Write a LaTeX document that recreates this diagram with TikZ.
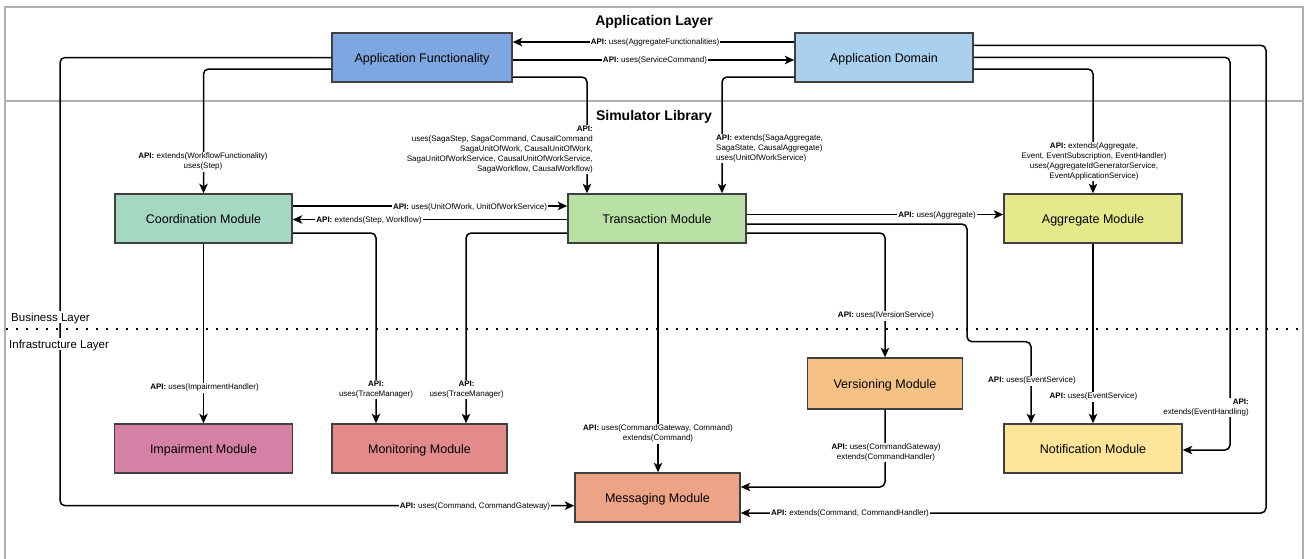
\documentclass[tikz,border=0pt]{standalone}
\usepackage{fontspec}
\setmainfont{Liberation Sans}
\usetikzlibrary{arrows.meta}
\definecolor{afc}{HTML}{7EA6E0}
\definecolor{adc}{HTML}{A9D0EE}
\definecolor{cmc}{HTML}{A6D7C2}
\definecolor{tmc}{HTML}{B9E0A5}
\definecolor{amc}{HTML}{E5E98B}
\definecolor{vmc}{HTML}{F5C184}
\definecolor{imc}{HTML}{D580A5}
\definecolor{monc}{HTML}{E38A8A}
\definecolor{msgc}{HTML}{EDA385}
\definecolor{nmc}{HTML}{FFE599}
\definecolor{framec}{HTML}{B0B0B0}
\definecolor{edgec}{HTML}{404040}
\newcommand{\apiB}{\textbf{API:}}
\tikzset{
  box/.style={draw=edgec, line width=1.5pt, minimum height=49pt, inner sep=0pt,
    text height=10pt, text depth=1pt,
    font=\fontsize{12.5}{15}\selectfont},
  arr/.style={line width=1.5pt, rounded corners=5pt,
    -{Stealth[length=9.5pt,width=8.5pt,inset=2.5pt]}},
  lbl/.style={fill=white, inner sep=1pt, yshift=-0.8pt, font=\fontsize{8}{10}\selectfont},
  layertxt/.style={fill=white, inner sep=1pt, anchor=west, text height=9.5pt, text depth=1.2pt,
    font=\fontsize{11.5}{13}\selectfont},
  titletxt/.style={font=\fontsize{14}{16}\bfseries\selectfont, inner sep=1pt,
    text height=11pt, text depth=1pt},
}
\begin{document}
\begin{tikzpicture}[x=1pt,y=-1pt]
\useasboundingbox (0,0) rectangle (1307,558);
\clip (0,0) rectangle (1307,558);
% frames
\draw[framec, line width=2.5pt] (5,7) rectangle (1303,101);
\draw[framec, line width=2.5pt] (5,101) rectangle (1303,600);
\node[titletxt] (t1) at (654,20.5) {Application Layer};
\node[titletxt] (t2) at (654,115.5) {Simulator Library};
% layer separator
\draw[line width=2pt, dash pattern=on 2pt off 8pt] (6,329) -- (1303,329);

% boxes
\node[box, fill=afc, minimum width=180pt] (AF) at (422,57.5) {Application Functionality};
\node[box, fill=adc, minimum width=178pt] (AD) at (884,57.5) {Application Domain};
\node[box, fill=cmc, minimum width=177pt] (CM) at (203.5,218.5) {Coordination Module};
\node[box, fill=tmc, minimum width=178pt] (TM) at (657,218.5) {Transaction Module};
\node[box, fill=amc, minimum width=178pt] (AM) at (1093,218.5) {Aggregate Module};
\node[box, fill=vmc, minimum width=155pt, minimum height=51pt] (VM) at (885,383.5) {Versioning Module};
\node[box, fill=imc, minimum width=178pt] (IM) at (203.5,448.5) {Impairment Module};
\node[box, fill=monc, minimum width=175pt] (MonM) at (419.5,448.5) {Monitoring Module};
\node[box, fill=msgc, minimum width=165pt] (MsgM) at (657.5,497.5) {Messaging Module};
\node[box, fill=nmc, minimum width=178pt] (NM) at (1093,448.5) {Notification Module};

% connectors
\draw[arr] (AD.west |- 0,42) -- (AF.east |- 0,42);
\draw[arr] (AF.east |- 0,60) -- (AD.west |- 0,60);
\draw[arr] (AF.west |- 0,57.5) -| (60,505.7) -- (MsgM.west |- 0,505.7);
\draw[arr] (AF.west |- 0,69) -| (CM.north);
\draw[arr] (AF.east |- 0,77) -| (TM.north -| 587,0);
\draw[arr] (AD.west |- 0,77) -| (TM.north -| 722,0);
\draw[arr] (AD.east |- 0,69) -| (AM.north);
\draw[arr] (AD.east |- 0,57.3) -| (1230,450) -- (NM.east |- 0,450);
\draw[arr] (AD.east |- 0,45.3) -| (1266,513) -- (MsgM.east |- 0,513);
\draw[arr] (CM.east |- 0,206) -- (TM.west |- 0,206);
\draw[arr] (TM.west |- 0,219.5) -- (CM.east |- 0,219.5);
\draw[arr] (CM.east |- 0,233) -| (MonM.north -| 376,0);
\draw[arr] (TM.west |- 0,233) -| (MonM.north -| 466,0);
\draw[arr] (CM.south) -- (IM.north);
\draw[arr] (TM.south -| 658,0) -- (MsgM.north -| 658,0);
\draw[arr] (TM.east |- 0,214.5) -- (AM.west |- 0,214.5);
\draw[arr] (TM.east |- 0,224) -| (967,341.7) -| (NM.north -| 1031,0);
\draw[arr] (TM.east |- 0,233) -| (VM.north);
\draw[arr] (AM.south) -- (NM.north);
\draw[arr] (VM.south) |- (MsgM.east |- 0,487);

% connector labels
\node[lbl] (l1) at (655,42) {\apiB{} uses(AggregateFunctionalities)};
\node[lbl] (l2) at (655,60) {\apiB{} uses(ServiceCommand)};
\node[lbl] (l3) at (475,505.7) {\apiB{} uses(Command, CommandGateway)};
\node[lbl, align=center] (l4) at (203,161) {\apiB{} extends(WorkflowFunctionality)\\uses(Step)};
\node[lbl, align=right, anchor=east] (l5) at (594,148.5) {\apiB\\uses(SagaStep, SagaCommand, CausalCommand\\SagaUnitOfWork, CausalUnitOfWork,\\SagaUnitOfWorkService, CausalUnitOfWorkService,\\SagaWorkflow, CausalWorkflow)};
\node[lbl, align=left, anchor=west] (l6) at (715,147.5) {\apiB{} extends(SagaAggregate,\\SagaState, CausalAggregate)\\uses(UnitOfWorkService)};
\node[lbl, align=center] (l7) at (1094,160.5) {\apiB{} extends(Aggregate,\\Event, EventSubscription, EventHandler)\\uses(AggregateIdGeneratorService,\\EventApplicationService)};
\node[lbl, align=right, anchor=east] (l8) at (1250,406.5) {\apiB\\extends(EventHandling)};
\node[lbl] (l9) at (850,513) {\apiB{} extends(Command, CommandHandler)};
\node[lbl] (l10) at (470,207) {\apiB{} uses(UnitOfWork, UnitOfWorkService)};
\node[lbl] (l11) at (369,220) {\apiB{} extends(Step, Workflow)};
\node[lbl, align=center] (l12) at (376,388.5) {\apiB\\uses(TraceManager)};
\node[lbl, align=center] (l13) at (466.5,388.5) {\apiB\\uses(TraceManager)};
\node[lbl] (l14) at (204.5,387) {\apiB{} uses(ImpairmentHandler)};
\node[lbl, align=center] (l15) at (658,433) {\apiB{} uses(CommandGateway, Command)\\extends(Command)};
\node[lbl] (l16) at (937,214.5) {\apiB{} uses(Aggregate)};
\node[lbl] (l17) at (1032,380) {\apiB{} uses(EventService)};
\node[lbl] (l18) at (886,315) {\apiB{} uses(IVersionService)};
\node[lbl] (l19) at (1093.5,396) {\apiB{} uses(EventService)};
\node[lbl, align=center] (l20) at (886,451.5) {\apiB{} uses(CommandGateway)\\extends(CommandHandler)};

% layer labels
\node[layertxt] (bl) at (10,317) {Business Layer};
\node[layertxt] (il) at (8,344) {Infrastructure Layer};
\end{tikzpicture}
\end{document}
